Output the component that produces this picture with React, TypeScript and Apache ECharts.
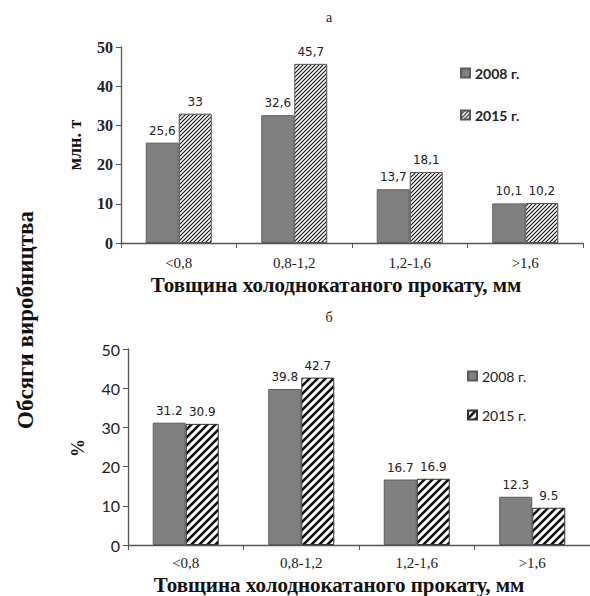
import React, { useEffect, useRef } from "react";
import * as echarts from "echarts";

const categories = ["<0,8", "0,8-1,2", "1,2-1,6", ">1,6"];
const topValues2008 = [25.6, 32.6, 13.7, 10.1];
const topValues2015 = [33, 45.7, 18.1, 10.2];
const bottomValues2008 = [31.2, 39.8, 16.7, 12.3];
const bottomValues2015 = [30.9, 42.7, 16.9, 9.5];
const yTicks = [0, 10, 20, 30, 40, 50];
const legendNames = ["2008 г.", "2015 г."];
const titleTop = "а";
const titleBottom = "б";
const xName = "Товщина холоднокатаного прокату, мм";
const yNameTop = "млн. т";
const yNameBottom = "%";
const sideLabel = "Обсяги виробництва";

function makeHatch(size: number, lw: number) {
  const c = document.createElement("canvas");
  c.width = size;
  c.height = size;
  const g = c.getContext("2d")!;
  g.fillStyle = "#ffffff";
  g.fillRect(0, 0, size, size);
  g.strokeStyle = "#111111";
  g.lineWidth = lw;
  g.beginPath();
  g.moveTo(0, size);
  g.lineTo(size, 0);
  g.moveTo(-size / 2, size / 2);
  g.lineTo(size / 2, -size / 2);
  g.moveTo(size / 2, size * 1.5);
  g.lineTo(size * 1.5, size / 2);
  g.stroke();
  return c;
}

const SERIF = "'Liberation Serif', 'DejaVu Serif', serif";
const SANS = "'DejaVu Sans', sans-serif";
const LEG = "Lato, 'Open Sans', sans-serif";

export default function App() {
  const ref = useRef<HTMLDivElement>(null);
  useEffect(() => {
    if (!ref.current) return;
    const chart = echarts.init(ref.current, undefined, { renderer: "svg" });
    const hatchTop = { image: makeHatch(4, 1.1), repeat: "repeat" };
    const hatchBottom = { image: makeHatch(8, 2.6), repeat: "repeat" };
    const axisColor = "#555555";
    const mkX = (gridIndex: number, margin: number) => ({
      type: "category",
      gridIndex,
      data: categories,
      axisLine: { lineStyle: { color: axisColor, width: 1.3 } },
      axisTick: { show: true, length: 5, lineStyle: { color: axisColor } },
      axisLabel: { fontFamily: SERIF, fontSize: 15, color: "#222", margin },
    });
    const mkY = (gridIndex: number, font: string, weight: string) => ({
      type: "value",
      gridIndex,
      min: yTicks[0],
      max: yTicks[yTicks.length - 1],
      interval: 10,
      splitLine: { show: false },
      axisLine: { show: true, lineStyle: { color: axisColor, width: 1.3 } },
      axisTick: { show: true, length: 5, lineStyle: { color: axisColor } },
      axisLabel: { fontFamily: font, fontSize: 16, fontWeight: weight, color: "#222", margin: 8 },
    });
    const commaFmt = (p: any) => String(p.value).replace(".", ",");
    const dotFmt = (p: any) => String(p.value);
    const lbl = (fmt: any) => ({
      show: true,
      position: "top",
      distance: 6,
      fontFamily: SANS,
      fontSize: 12,
      color: "#222",
      formatter: fmt,
    });
    const grayStyle = { color: "#808080", borderColor: "#5a5a5a", borderWidth: 1 };
    chart.setOption({
      animation: false,
      backgroundColor: "#ffffff",
      grid: [
        { left: 121, top: 47, width: 462, height: 196 },
        { left: 128, top: 349, width: 462, height: 196 },
      ],
      legend: [
        {
          data: legendNames,
          orient: "vertical",
          left: 455,
          top: 61,
          itemWidth: 9,
          itemHeight: 9,
          itemGap: 28,
          icon: "rect",
          textStyle: { fontFamily: LEG, fontSize: 14, fontWeight: "bold", color: "#222" },
        },
        {
          data: legendNames.map((n) => n + " "),
          orient: "vertical",
          left: 462,
          top: 364,
          itemWidth: 9,
          itemHeight: 9,
          itemGap: 25,
          icon: "rect",
          textStyle: { fontFamily: LEG, fontSize: 14, color: "#222" },
          formatter: (n: string) => n.trim(),
        },
      ],
      xAxis: [mkX(0, 12), mkX(1, 10)],
      yAxis: [mkY(0, SERIF, "bold"), mkY(1, LEG, "normal")],
      series: [
        {
          type: "bar",
          name: legendNames[0],
          xAxisIndex: 0,
          yAxisIndex: 0,
          data: topValues2008,
          barWidth: 33,
          barGap: "0%",
          itemStyle: grayStyle,
          label: lbl(commaFmt),
        },
        {
          type: "bar",
          name: legendNames[1],
          xAxisIndex: 0,
          yAxisIndex: 0,
          data: topValues2015,
          barWidth: 33,
          barGap: "0%",
          itemStyle: { color: hatchTop, borderColor: "#555", borderWidth: 1 },
          label: lbl(commaFmt),
        },
        {
          type: "bar",
          name: legendNames[0] + " ",
          xAxisIndex: 1,
          yAxisIndex: 1,
          data: bottomValues2008,
          barWidth: 33,
          barGap: "0%",
          itemStyle: grayStyle,
          label: lbl(dotFmt),
        },
        {
          type: "bar",
          name: legendNames[1] + " ",
          xAxisIndex: 1,
          yAxisIndex: 1,
          data: bottomValues2015,
          barWidth: 33,
          barGap: "0%",
          itemStyle: { color: hatchBottom, borderColor: "#333", borderWidth: 1 },
          label: lbl(dotFmt),
        },
      ],
      graphic: [
        { type: "text", x: 329, y: 17, style: { text: titleTop, font: `14px ${SERIF}`, fill: "#222", align: "center", verticalAlign: "middle" } },
        { type: "text", x: 329, y: 317, style: { text: titleBottom, font: `14px ${SERIF}`, fill: "#222", align: "center", verticalAlign: "middle" } },
        { type: "text", x: 336, y: 285, style: { text: xName, font: `bold 21px ${SERIF}`, fill: "#111", align: "center", verticalAlign: "middle" } },
        { type: "text", x: 339, y: 585, style: { text: xName, font: `bold 21px ${SERIF}`, fill: "#111", align: "center", verticalAlign: "middle" } },
        { type: "text", x: 75, y: 145, rotation: Math.PI / 2, style: { text: yNameTop, font: `bold 18px ${SERIF}`, fill: "#111", align: "center", verticalAlign: "middle" } },
        { type: "text", x: 78, y: 448, rotation: Math.PI / 2, style: { text: yNameBottom, font: `bold 18px ${SERIF}`, fill: "#111", align: "center", verticalAlign: "middle" } },
        { type: "text", x: 25, y: 320, rotation: Math.PI / 2, style: { text: sideLabel, font: `bold 23px ${SERIF}`, fill: "#111", align: "center", verticalAlign: "middle" } },
      ],
    });
    return () => chart.dispose();
  }, []);
  return <div ref={ref} style={{ position: "fixed", left: 0, top: 0, width: 590, height: 596 }} />;
}
